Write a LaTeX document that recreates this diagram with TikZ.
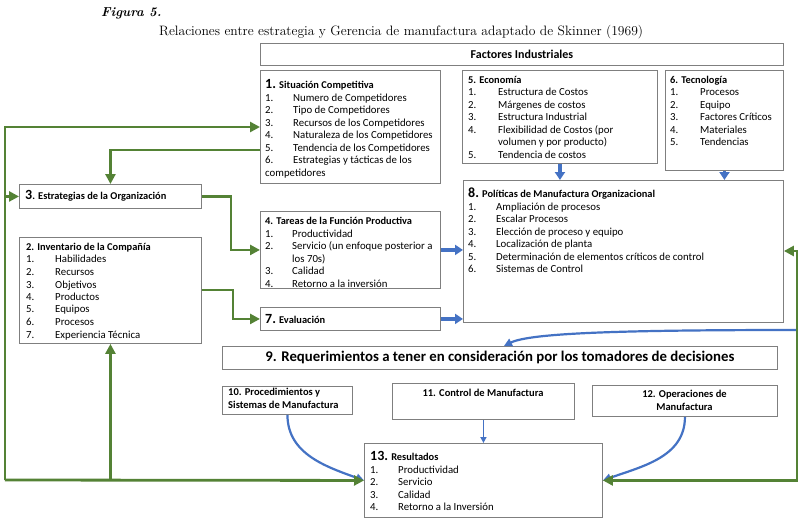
\documentclass[tikz,border=0pt]{standalone}
\usepackage{fontspec}
\newfontfamily\calib{Carlito}
\usetikzlibrary{arrows.meta}
\definecolor{gr}{HTML}{548235}
\definecolor{bl}{HTML}{4472C4}
\definecolor{bx}{HTML}{7F7F7F}
\newcommand\li[3][28pt]{\makebox[#1][l]{#2}#3}
\newcommand\bign[1]{{\fontsize{14}{12.5}\selectfont\bfseries #1}}
\newcommand\ttl[1]{{\fontsize{10.4}{12.5}\selectfont\bfseries #1}}
\newcommand\bx[5]{\node[box, minimum width={(#4-#2)*1pt}, minimum height={(#5-#3)*1pt}] (#1) at (#2,#3) {};}
\begin{document}
\begin{tikzpicture}[x=1pt,y=-1pt,
  box/.style={draw=bx, line width=0.9pt, anchor=north west, inner sep=0pt, fill=white},
  txt/.style={anchor=north west, inner sep=0pt, align=left, font=\calib\fontsize{10.8}{12.5}\selectfont},
  btxt/.style={inner sep=0pt, font=\calib\bfseries\fontsize{10.5}{13}\selectfont},
  g/.style={draw=gr, line width=2.8pt},
  ga/.style={g, -{Triangle[length=10pt,width=10pt]}},
  gb/.style={g, {Triangle[length=10pt,width=10pt]}-{Triangle[length=10pt,width=10pt]}},
  bthick/.style={draw=bl, line width=3.5pt, -{Triangle[length=8pt,width=10pt]}},
  bcurve/.style={draw=bl, line width=2.2pt, -{Triangle[length=8pt,width=8pt]}},
  bthin/.style={draw=bl, line width=1.6pt, -{Triangle[length=6pt,width=6pt]}}]
\useasboundingbox[fill=white] (0,0) rectangle (808,524);

% caption
\node[anchor=west, inner sep=0pt, font=\bfseries\itshape\fontsize{13}{15}\selectfont] (fig) at (101,13) {Figura 5.};
\node[anchor=west, inner sep=0pt, font=\fontsize{13.6}{16}\selectfont] (cap) at (159,32) {Relaciones entre estrategia y Gerencia de manufactura adaptado de Skinner (1969)};

% boxes
\bx{F}{260}{43}{783}{65}
\bx{b1}{260}{70}{440}{183}
\bx{b5}{462}{70}{657}{163}
\bx{b6}{665}{70}{783}{170}
\bx{b8}{463}{180}{783}{322}
\bx{b3}{19}{184}{201}{208}
\bx{b4}{260}{211}{440}{288}
\bx{b2}{19}{237}{201}{343}
\bx{b7}{260}{307}{440}{330}
\bx{b9}{222}{346}{777}{369}
\bx{b10}{222}{386}{352}{414}
\bx{b11}{392}{383}{574}{419}
\bx{b12}{592}{385}{777}{416}
\bx{b13}{364}{443}{602}{517}

% texts
\node[btxt, font=\calib\bfseries\fontsize{12}{14}\selectfont] (tF) at (F) {Factores Industriales};
\node[txt] (t1) at (265,79.5) {\bign{1.}\ttl{ Situación Competitiva}\\
\li{1.}{Numero de Competidores}\\
\li{2.}{Tipo de Competidores}\\
\li{3.}{Recursos de los Competidores}\\
\li{4.}{Naturaleza de los Competidores}\\
\li{5.}{Tendencia de los Competidores}\\
\li{6.}{Estrategias y tácticas de los}\\
competidores};
\node[txt] (t5) at (468,76) {\ttl{5. Economía}\\
\li[30pt]{1.}{Estructura de Costos}\\
\li[30pt]{2.}{Márgenes de costos}\\
\li[30pt]{3.}{Estructura Industrial}\\
\li[30pt]{4.}{Flexibilidad de Costos (por}\\
\li[30pt]{}{volumen y por producto)}\\
\li[30pt]{5.}{Tendencia de costos}};
\node[txt] (t6) at (670,76) {\ttl{6. Tecnología}\\
\li[30pt]{1.}{Procesos}\\
\li[30pt]{2.}{Equipo}\\
\li[30pt]{3.}{Factores Críticos}\\
\li[30pt]{4.}{Materiales}\\
\li[30pt]{5.}{Tendencias}};
\node[txt, anchor=west] (t3) at (25,196) {\bign{3}\ttl{. Estrategias de la Organización}};
\node[txt] (t2) at (26,243) {\ttl{2. Inventario de la Compañía}\\
\li[29pt]{1.}{Habilidades}\\
\li[29pt]{2.}{Recursos}\\
\li[29pt]{3.}{Objetivos}\\
\li[29pt]{4.}{Productos}\\
\li[29pt]{5.}{Equipos}\\
\li[29pt]{6.}{Procesos}\\
\li[29pt]{7.}{Experiencia Técnica}};
\node[txt] (t4) at (265,217) {\ttl{4. Tareas de la Función Productiva}\\
\li[27pt]{1.}{Productividad}\\
\li[27pt]{2.}{Servicio (un enfoque posterior a}\\
\li[27pt]{}{los 70s)}\\
\li[27pt]{3.}{Calidad}\\
\li[27pt]{4.}{Retorno a la inversión}};
\node[txt, anchor=west] (t7) at (265,319) {\bign{7.}\ttl{ Evaluación}};
\node[txt] (t8) at (468,188) {\bign{8.}\ttl{ Políticas de Manufactura Organizacional}\\
\li{1.}{Ampliación de procesos}\\
\li{2.}{Escalar Procesos}\\
\li{3.}{Elección de proceso y equipo}\\
\li{4.}{Localización de planta}\\
\li{5.}{Determinación de elementos críticos de control}\\
\li{6.}{Sistemas de Control}};
\node[btxt, font=\calib\bfseries\fontsize{14.8}{16}\selectfont] (t9) at (b9) {9. Requerimientos a tener en consideración por los tomadores de decisiones};
\node[btxt, anchor=north west, align=left] (t10) at (228,388) {10. Procedimientos y\\Sistemas de Manufactura};
\node[btxt] (t11) at (483,393) {11. Control de Manufactura};
\node[btxt, align=center] (t12) at (684.5,400.5) {12. Operaciones de\\Manufactura};
\node[txt] (t13) at (370,451.5) {\bign{13.}\ttl{ Resultados}\\
\li{1.}{Productividad}\\
\li{2.}{Servicio}\\
\li{3.}{Calidad}\\
\li{4.}{Retorno a la Inversión}};

% coordinates
\coordinate (Ltop) at (5,127);
\coordinate (Lbot) at (5,480);
\coordinate (c150) at (0,150);
\coordinate (c290) at (0,290);
\coordinate (Rt) at (797,251);
\coordinate (Bst) at (797,330);

% blue connectors
\draw[bthick] (b4.east) -- (b8.west |- b4.east);
\draw[bthick] (b7.east) -- (b8.west |- b7.east);
\draw[bthick] (b5.south) -- (b8.north -| b5.south);
\draw[bthick] (b6.south) -- (b8.north -| b6.south);
\draw[bcurve] (Bst) .. controls (620,330) and (530,333) .. ([xshift=4pt]b9.north);
\draw[bcurve] (b10.south) to[out=-90, in=160] (b13.west);
\draw[bthin] (b11.south) -- (b13.north -| b11.south);
\draw[bcurve] (b12.south) to[out=-90, in=20] (b13.east);

% green connectors
\draw[ga] (Lbot) -- (Ltop) -- (b1.west |- Ltop);
\draw[ga] (Ltop |- b3.west) -- (b3.west);
\draw[ga] (Lbot) -- (b13.west);
\draw[ga] (b2.south |- Lbot) -- (b2.south);
\draw[ga] (b1.west |- c150) -| (b3.north);
\draw[ga] (b3.east) -- ++(29,0) |- (b4.west);
\draw[ga] (b2.east |- c290) -- ++(31,0) |- (b7.west);
\draw[gb] (b13.east) -| (Rt) -- (b8.east |- Rt);
\end{tikzpicture}
\end{document}
